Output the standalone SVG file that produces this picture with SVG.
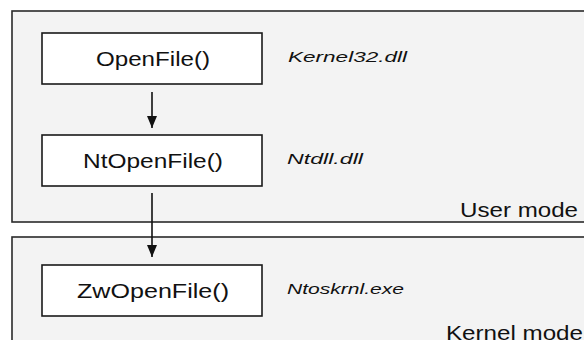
<svg xmlns="http://www.w3.org/2000/svg" width="584" height="340" viewBox="0 0 584 340">
<defs>
<style>
.panel{fill:#f3f3f3;stroke:#2a2a2a;stroke-width:1.6}
.box{fill:#ffffff;stroke:#1a1a1a;stroke-width:1.6}
.fn{font-family:"Liberation Sans",Arial,sans-serif;font-size:20px;fill:#111}
.lib{font-family:"Liberation Sans",Arial,sans-serif;font-size:14px;font-style:italic;fill:#111}
.mode{font-family:"Liberation Sans",Arial,sans-serif;font-size:20px;fill:#111}
.conn{stroke:#111;stroke-width:1.6;fill:none}
</style>
<marker id="arr" viewBox="0 0 12 10" refX="12" refY="5" markerWidth="12" markerHeight="10" markerUnits="userSpaceOnUse" orient="auto">
<path d="M0,0 L12,5 L0,10 Z" fill="#111"/>
</marker>
</defs>
<rect width="584" height="340" fill="#ffffff"/>
<g id="user-mode">
<rect class="panel" x="12" y="11" width="600" height="211"/>
<text class="mode" x="460" y="217" textLength="118" lengthAdjust="spacingAndGlyphs">User mode</text>
</g>
<g id="kernel-mode">
<rect class="panel" x="12" y="237" width="600" height="120"/>
<text class="mode" x="446" y="340" textLength="137" lengthAdjust="spacingAndGlyphs">Kernel mode</text>
</g>
<g id="openfile">
<rect class="box" x="42" y="33" width="220" height="51"/>
<text class="fn" x="96" y="66" textLength="114" lengthAdjust="spacingAndGlyphs">OpenFile()</text>
<text class="lib" x="288" y="62" textLength="119" lengthAdjust="spacingAndGlyphs">Kernel32.dll</text>
</g>
<g id="ntopenfile">
<rect class="box" x="42" y="135" width="220" height="51"/>
<text class="fn" x="83" y="168" textLength="140" lengthAdjust="spacingAndGlyphs">NtOpenFile()</text>
<text class="lib" x="287" y="164" textLength="76" lengthAdjust="spacingAndGlyphs">Ntdll.dll</text>
</g>
<g id="zwopenfile">
<rect class="box" x="42" y="265" width="220" height="51"/>
<text class="fn" x="77" y="298" textLength="152" lengthAdjust="spacingAndGlyphs">ZwOpenFile()</text>
<text class="lib" x="287" y="294" textLength="117" lengthAdjust="spacingAndGlyphs">Ntoskrnl.exe</text>
</g>
<g id="connectors">
<line class="conn" x1="152" y1="92" x2="152" y2="128" marker-end="url(#arr)"/>
<line class="conn" x1="152" y1="193" x2="152" y2="257" marker-end="url(#arr)"/>
</g>
</svg>
